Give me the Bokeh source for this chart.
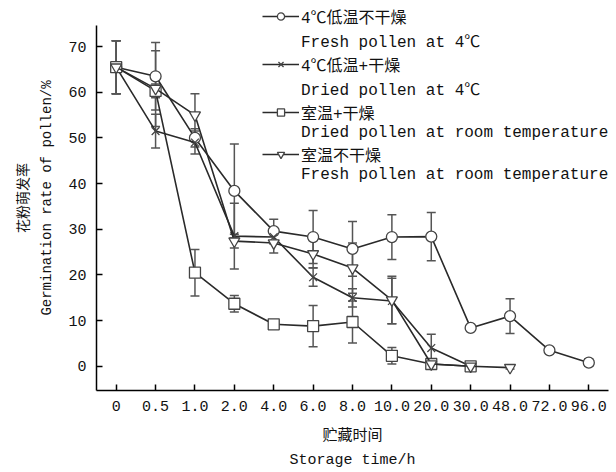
from bokeh.plotting import figure
from bokeh.models import (FactorRange, Range1d, ColumnDataSource, Whisker, TeeHead,
                          Legend, LegendItem, FixedTicker)
from bokeh.embed import file_html
from bokeh.resources import INLINE

times = ["0", "0.5", "1.0", "2.0", "4.0", "6.0", "8.0", "10.0", "20.0", "30.0", "48.0", "72.0", "96.0"]

fresh_4c = [65.5, 63.5, 50.0, 38.4, 29.6, 28.3, 25.7, 28.3, 28.4, 8.4, 11.0, 3.5, 0.8]
fresh_4c_err = [5.8, 7.4, 2.0, 10.3, 2.6, 5.8, 6.0, 4.9, 5.3, 0.5, 3.8, 0.5, 0.8]

dried_4c = [65.5, 51.5, 49.0, 28.5, 28.3, 19.5, 15.0, 14.3, 4.0, 0.0]
dried_4c_err = [5.8, 3.7, 2.5, 7.2, 1.5, 2.0, 2.0, 5.0, 3.0, 0.5]

dried_rt = [65.5, 60.3, 20.5, 13.7, 9.2, 8.8, 9.7, 2.3, 0.5, 0.0]
dried_rt_err = [5.8, 1.5, 5.1, 1.8, 0.5, 4.5, 4.6, 1.8, 0.3, 0.2]

fresh_rt = [65.5, 60.8, 55.0, 27.4, 27.0, 24.6, 21.5, 14.5, 0.5, 0.0, -0.3]
fresh_rt_err = [5.8, 8.3, 4.7, 1.5, 2.2, 3.0, 5.5, 5.2, 0.5, 0.3, 0.3]

labels_cn = ["4℃低温不干燥", "4℃低温+干燥", "室温+干燥", "室温不干燥"]
labels_en = ["Fresh pollen at 4℃", "Dried pollen at 4℃",
             "Dried pollen at room temperature", "Fresh pollen at room temperature"]
markers = ["circle", "x", "square", "inverted_triangle"]
y_ticks = [0, 10, 20, 30, 40, 50, 60, 70]

FONT = "Liberation Mono, Noto Sans CJK SC"
INK = "#2a2a2a"

p = figure(width=616, height=472, x_range=FactorRange(*times, range_padding=0),
           y_range=Range1d(-5.3, 79.0), output_backend="svg", toolbar_location=None,
           min_border_left=96, min_border_right=8, min_border_top=5, min_border_bottom=80)
p.outline_line_color = None
p.xgrid.grid_line_color = None
p.ygrid.grid_line_color = None
p.background_fill_color = "white"

series = [(fresh_4c, fresh_4c_err), (dried_4c, dried_4c_err),
          (dried_rt, dried_rt_err), (fresh_rt, fresh_rt_err)]

blank = p.line(x=[], y=[], line_alpha=0)

items = []
for (vals, errs), cn, en, mk in zip(series, labels_cn, labels_en, markers):
    xs = times[:len(vals)]
    src = ColumnDataSource(dict(x=xs, y=vals,
                                lo=[v - e for v, e in zip(vals, errs)],
                                hi=[v + e for v, e in zip(vals, errs)]))
    w = Whisker(base="x", upper="hi", lower="lo", source=src, dimension="height",
                line_color="#555555", line_width=1.5,
                upper_head=TeeHead(size=9, line_color="#555555", line_width=1.5),
                lower_head=TeeHead(size=9, line_color="#555555", line_width=1.5))
    p.add_layout(w)
    ln = p.line("x", "y", source=src, line_color=INK, line_width=1.6)
    sc = p.scatter("x", "y", source=src, marker=mk, size=11, fill_color="white",
                   line_color="#444444", line_width=1.3)
    items.append(LegendItem(label=cn, renderers=[ln, sc]))
    items.append(LegendItem(label=en, renderers=[blank]))

legend = Legend(items=items, location=(166, 206), orientation="vertical",
                border_line_color=None, background_fill_alpha=0,
                label_text_font=FONT, label_text_font_size="16px",
                label_text_color="#111111", label_height=18,
                label_text_line_height=1.0,
                glyph_width=37, glyph_height=18, label_standoff=2,
                spacing=0, padding=0, margin=0)
p.add_layout(legend, "center")

for ax in (p.xaxis[0], p.yaxis[0]):
    ax.axis_line_color = "black"
    ax.axis_line_width = 1.5
    ax.major_tick_line_color = "black"
    ax.major_tick_line_width = 1.5
    ax.major_tick_in = 6
    ax.major_tick_out = 0
    ax.minor_tick_line_color = None
    ax.major_label_text_font = FONT
    ax.major_label_text_font_size = "15px"
    ax.major_label_text_color = "#111111"
    ax.axis_label_text_font = FONT
    ax.axis_label_text_font_style = "normal"
    ax.axis_label_text_color = "#111111"
    ax.axis_label_text_line_height = 1.45
    ax.major_label_standoff = 10

p.yaxis.bounds = (-5.3, 74.6)
p.yaxis.ticker = FixedTicker(ticks=y_ticks)
p.xaxis.axis_label = "贮藏时间\nStorage time/h"
p.yaxis.axis_label = "花粉萌发率\nGermination rate of pollen/%"
p.xaxis.axis_label_text_font_size = "15px"
p.yaxis.axis_label_text_font_size = "14px"
p.xaxis.axis_label_standoff = 14
p.yaxis.axis_label_standoff = 10

open("out.html", "w").write(file_html(p, INLINE))
